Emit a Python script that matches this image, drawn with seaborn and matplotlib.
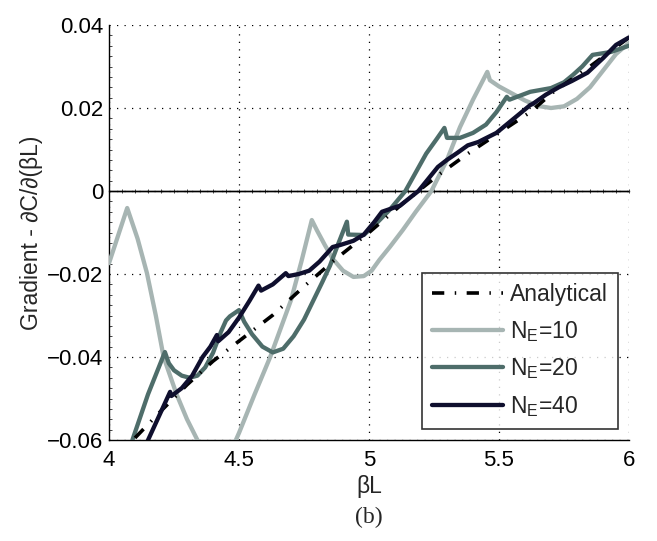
import numpy as np
import pandas as pd
import matplotlib
matplotlib.use("Agg")
import matplotlib.pyplot as plt
from matplotlib.ticker import MultipleLocator
import seaborn as sns

# ---------------- data ----------------
x_analytical = [4.10, 4.20, 4.30, 4.40, 4.52, 4.63, 4.75, 4.87, 5.00, 5.13, 5.27, 5.38, 5.50, 5.62, 5.71, 5.85, 6.00]
y_analytical = [-0.0595, -0.0530, -0.0467, -0.0410, -0.0352, -0.0299, -0.0230, -0.0165, -0.0100, -0.0030,
                0.0040, 0.0090, 0.0140, 0.0190, 0.0239, 0.0300, 0.0370]

x_ne10 = [4.00, 4.07, 4.11, 4.146, 4.18, 4.21, 4.26, 4.30, 4.34, 4.38, 4.42, 4.46, 4.50, 4.56, 4.62,
          4.70, 4.74, 4.78, 4.80, 4.83, 4.86, 4.90, 4.94, 4.98, 5.01, 5.04, 5.08, 5.13, 5.18, 5.24,
          5.30, 5.35, 5.40, 5.455, 5.465, 5.50, 5.55, 5.60, 5.65, 5.70, 5.75, 5.80, 5.85, 5.90, 5.95, 6.00]
y_ne10 = [-0.0174, -0.0041, -0.0115, -0.0198, -0.0300, -0.0400, -0.0490, -0.0550, -0.0600, -0.0640,
          -0.0660, -0.0640, -0.0583, -0.0490, -0.0400, -0.0263, -0.0170, -0.0070, -0.0095, -0.0130,
          -0.0163, -0.0192, -0.0207, -0.0205, -0.0192, -0.0166, -0.0135, -0.0094, -0.0050, 0.0000,
          0.0075, 0.0154, 0.0220, 0.0287, 0.0267, 0.0252, 0.0235, 0.0218, 0.0205, 0.0200, 0.0204,
          0.0222, 0.0250, 0.0290, 0.0330, 0.0357]

x_ne20 = [4.09, 4.15, 4.215, 4.23, 4.25, 4.28, 4.31, 4.34, 4.37, 4.40, 4.43, 4.45, 4.465, 4.50, 4.52,
          4.55, 4.59, 4.63, 4.67, 4.71, 4.75, 4.785, 4.82, 4.85, 4.88, 4.915, 4.92, 4.98, 5.03, 5.08,
          5.14, 5.18, 5.22, 5.26, 5.29, 5.30, 5.35, 5.40, 5.45, 5.49, 5.53, 5.54, 5.62, 5.70, 5.75,
          5.785, 5.82, 5.86, 5.93, 6.00]
y_ne20 = [-0.0600, -0.0490, -0.0388, -0.0415, -0.0432, -0.0445, -0.0450, -0.0445, -0.0425, -0.0390,
          -0.0340, -0.0312, -0.0302, -0.0287, -0.0315, -0.0345, -0.0375, -0.0389, -0.0380, -0.0350,
          -0.0310, -0.0265, -0.0220, -0.0180, -0.0130, -0.0074, -0.0105, -0.0106, -0.0077, -0.0045,
          0.0000, 0.0045, 0.0090, 0.0125, 0.0152, 0.0128, 0.0128, 0.0140, 0.0160, 0.0190, 0.0227,
          0.0220, 0.0239, 0.0248, 0.0262, 0.0280, 0.0300, 0.0328, 0.0335, 0.0350]

x_ne40 = [4.14, 4.235, 4.24, 4.28, 4.32, 4.36, 4.39, 4.415, 4.42, 4.46, 4.50, 4.54, 4.575, 4.585,
          4.63, 4.68, 4.69, 4.73, 4.77, 4.81, 4.86, 4.89, 4.94, 4.98, 5.02, 5.05, 5.12, 5.19, 5.265,
          5.30, 5.34, 5.38, 5.42, 5.49, 5.56, 5.62, 5.63, 5.68, 5.73, 5.78, 5.84, 5.90, 5.95, 6.00]
y_ne40 = [-0.0614, -0.0484, -0.0494, -0.0475, -0.0445, -0.0400, -0.0375, -0.0347, -0.0362, -0.0340,
          -0.0305, -0.0265, -0.0228, -0.0240, -0.0225, -0.0198, -0.0205, -0.0200, -0.0192, -0.0170,
          -0.0135, -0.0130, -0.0120, -0.0105, -0.0075, -0.0050, -0.0035, 0.0000, 0.0058, 0.0075,
          0.0092, 0.0110, 0.0118, 0.0140, 0.0176, 0.0207, 0.0210, 0.0232, 0.0250, 0.0265, 0.0285,
          0.0320, 0.0352, 0.0370]

series_labels = ["Analytical", r"N$_\mathrm{E}$=10", r"N$_\mathrm{E}$=20", r"N$_\mathrm{E}$=40"]
x_ticks = [4, 4.5, 5, 5.5, 6]
x_tick_labels = ["4", "4.5", "5", "5.5", "6"]
y_ticks = [-0.06, -0.04, -0.02, 0, 0.02, 0.04]
y_tick_labels = ["\u22120.06", "\u22120.04", "\u22120.02", "0", "0.02", "0.04"]

# ---------------- style ----------------
sns.set_style("white")
plt.rcParams["font.family"] = ["Liberation Sans", "DejaVu Sans"]
plt.rcParams["mathtext.fontset"] = "custom"
plt.rcParams["mathtext.rm"] = "Liberation Sans"
plt.rcParams["mathtext.it"] = "Liberation Sans:italic"

c10 = "#a7b5b3"
c20 = "#4e6d6a"
c40 = "#0f0f2e"

fig = plt.figure(figsize=(6.57, 5.41), dpi=100)
ax = fig.add_axes([109 / 657, 101 / 541, 520 / 657, 415 / 541])

df_a = pd.DataFrame({"x": x_analytical, "y": y_analytical})
df10 = pd.DataFrame({"x": x_ne10, "y": y_ne10})
df20 = pd.DataFrame({"x": x_ne20, "y": y_ne20})
df40 = pd.DataFrame({"x": x_ne40, "y": y_ne40})

lw = 3.1
sns.lineplot(data=df10, x="x", y="y", ax=ax, color=c10, lw=lw, sort=False, estimator=None, zorder=3)
sns.lineplot(data=df20, x="x", y="y", ax=ax, color=c20, lw=lw, sort=False, estimator=None, zorder=4)
sns.lineplot(data=df_a, x="x", y="y", ax=ax, color="black", lw=2.6, sort=False, estimator=None,
             zorder=5, linestyle=(0, (3.4, 2.9, 0.4, 2.9)))
sns.lineplot(data=df40, x="x", y="y", ax=ax, color=c40, lw=lw, sort=False, estimator=None, zorder=6)

lines = ax.get_lines()
h10, h20, ha, h40 = lines[0], lines[1], lines[2], lines[3]
for ln in lines:
    ln.set_solid_joinstyle("round")

ax.set_xlim(4, 6)
ax.set_ylim(-0.06, 0.04)
ax.set_xticks(x_ticks)
ax.set_xticklabels(x_tick_labels)
ax.set_yticks(y_ticks)
ax.set_yticklabels(y_tick_labels)
ax.yaxis.set_minor_locator(MultipleLocator(0.0025))

ax.tick_params(axis="both", which="major", direction="in", length=5, width=0.8,
               labelsize=16, colors="black")
ax.tick_params(axis="x", which="major", pad=7)
ax.tick_params(axis="y", which="major", pad=4)
ax.tick_params(axis="y", which="minor", direction="in", length=2.5, width=0.6, left=True)
ax.tick_params(axis="x", which="minor", bottom=False)

ax.grid(True, which="major", color="black", linestyle=(0, (1, 5)), linewidth=0.9)
for s in ["top", "right"]:
    ax.spines[s].set_visible(False)
for s in ["left", "bottom"]:
    ax.spines[s].set_color("black")
    ax.spines[s].set_linewidth(1.0)

# zero line carrying its own small ticks
ax.axhline(0, color="black", lw=1.0, zorder=2)
zero_loc = (0 - ax.get_ylim()[0]) / (ax.get_ylim()[1] - ax.get_ylim()[0])
sec = ax.secondary_xaxis(zero_loc)
sec.set_xticks(x_ticks)
sec.xaxis.set_minor_locator(MultipleLocator(0.05))
sec.tick_params(which="both", direction="inout", labelbottom=False, labeltop=False, length=3, width=0.6)
sec.tick_params(which="minor", length=2.5)
for s in sec.spines.values():
    s.set_linewidth(1.0)

ax.set_xlabel("\u03b2L", fontsize=16.5, labelpad=3)
ax.set_ylabel("Gradient - \u2202C/\u2202(\u03b2L)", fontsize=16.5, labelpad=3)

leg = ax.legend([ha, h10, h20, h40], series_labels, loc="lower right",
                bbox_to_anchor=(0.979, 0.0265), frameon=True, fancybox=False,
                fontsize=16.5, handlelength=3.1, handletextpad=0.3, labelspacing=0.55,
                borderpad=0.45, borderaxespad=0)
leg.get_frame().set_edgecolor("black")
leg.get_frame().set_linewidth(1.2)
leg.set_zorder(10)

fig.text(369 / 657, 1 - 517 / 541, "(b)", ha="center", va="center",
         fontsize=17, family=["Liberation Serif", "DejaVu Serif"])

fig.savefig("out.png", dpi=100)
